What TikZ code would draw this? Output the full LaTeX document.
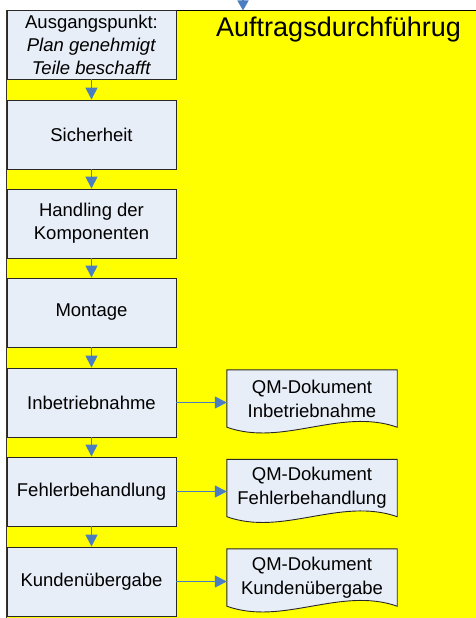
\documentclass[tikz,border=0pt]{standalone}
\usepackage{fontspec}
\setmainfont{Liberation Sans}
\usetikzlibrary{arrows.meta,calc}
\definecolor{laneyellow}{RGB}{255,255,0}
\definecolor{boxfill}{RGB}{232,238,247}
\definecolor{arrowblue}{RGB}{74,126,193}
\definecolor{boxline}{RGB}{40,40,40}
\tikzset{
  stepbox/.style={draw=boxline, line width=0.9pt, fill=boxfill, minimum width=169pt, minimum height=69pt, inner sep=0pt, align=center, font=\fontsize{18.5}{23}\selectfont},
  docbox/.style={minimum width=170pt, minimum height=57pt, inner sep=0pt, align=center, font=\fontsize{18.5}{24}\selectfont},
  docshape/.style={draw=boxline, line width=0.9pt, fill=boxfill},
  flow/.style={draw=arrowblue, line width=1.5pt, -{Triangle[width=12pt,length=12pt]}},
  titletext/.style={font=\fontsize{27}{30}\selectfont, inner sep=0pt, anchor=base west}
}
\newcommand{\drawdoc}[1]{%
  \path[docshape] (#1.north west) -- (#1.north east) -- (#1.south east)
    .. controls ($(#1.south east)+(-57,-20)$) and ($(#1.south west)+(56,20)$) .. (#1.south west) -- cycle;}
\begin{document}
\begin{tikzpicture}[x=1pt,y=-1pt]
\useasboundingbox (0,0) rectangle (476,618);
\fill[white] (0,0) rectangle (476,618);
% lane
\fill[laneyellow] (6,10) rectangle (476,618);
\coordinate (laneTL) at (6.5,10);
\coordinate (laneBL) at (6.5,618);
\coordinate (laneTR) at (476,10);
\draw[black, line width=0.6pt] (laneTL) -- (laneTR);
\draw[black!80!olive, line width=1.5pt] (laneTL) -- (laneBL);
% incoming arrow
\coordinate (in0) at (243,-3);
\coordinate (in1) at (243,10.5);
\draw[draw=arrowblue, line width=1.5pt, -{Triangle[width=11pt,length=10pt]}] (in0) -- (in1);
% title
\node[titletext] (title) at (216,37) {Auftragsdurchführug};
% steps
\node[stepbox] (b1) at (91.5,44.5) {Ausgangspunkt:\\\textit{Plan genehmigt}\\\textit{Teile beschafft}};
\node[stepbox] (b2) at (91.5,134.5) {Sicherheit};
\node[stepbox] (b3) at (91.5,223.5) {Handling der\\Komponenten};
\node[stepbox] (b4) at (91.5,312.5) {Montage};
\node[stepbox] (b5) at (91.5,402.5) {Inbetriebnahme};
\node[stepbox] (b6) at (91.5,491.5) {Fehlerbehandlung};
\node[stepbox] (b7) at (91.5,581.5) {Kundenübergabe};
% documents
\node[docbox] (d1) at (312,398.5) {};
\node[docbox] (d2) at (312,488) {};
\node[docbox] (d3) at (312,577.5) {};
\drawdoc{d1}
\drawdoc{d2}
\drawdoc{d3}
\node[docbox] (t1) at (d1) {QM-Dokument\\Inbetriebnahme};
\node[docbox] (t2) at (d2) {QM-Dokument\\Fehlerbehandlung};
\node[docbox] (t3) at (d3) {QM-Dokument\\Kundenübergabe};
% flow arrows
\draw[flow] (b1) -- (b2);
\draw[flow] (b2) -- (b3);
\draw[flow] (b3) -- (b4);
\draw[flow] (b4) -- (b5);
\draw[flow] (b5) -- (b6);
\draw[flow] (b6) -- (b7);
\draw[flow] (b5.east) -- (b5.east -| d1.west);
\draw[flow] (b6.east) -- (b6.east -| d2.west);
\draw[flow] (b7.east) -- (b7.east -| d3.west);
\end{tikzpicture}
\end{document}
